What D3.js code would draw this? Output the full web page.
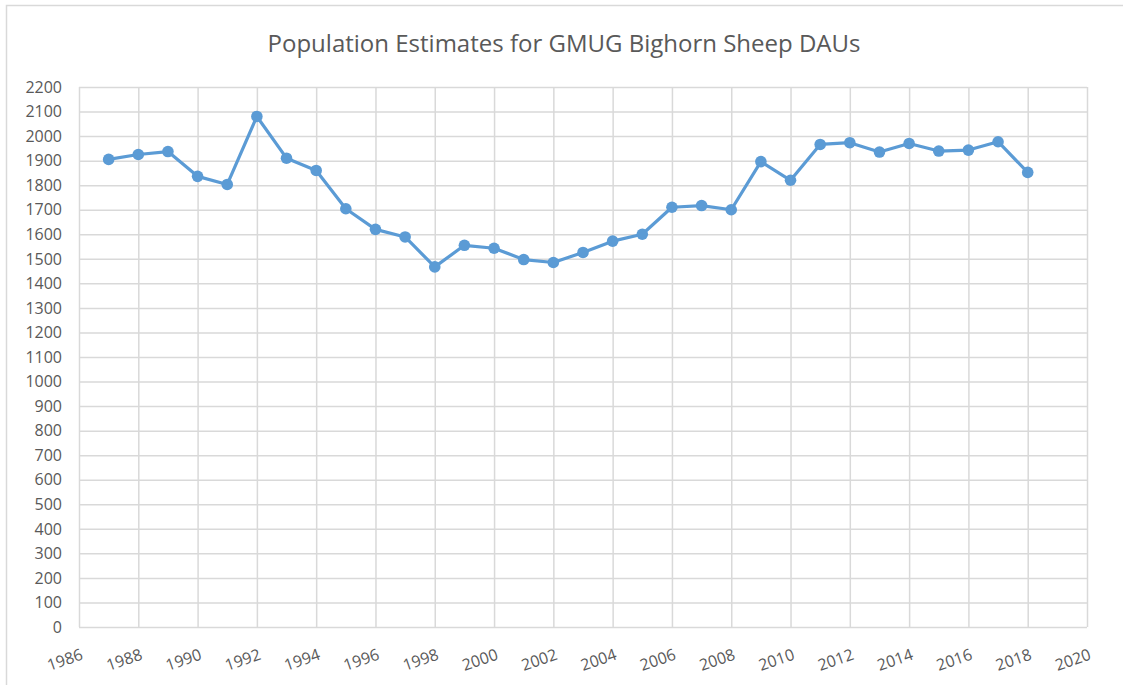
<!DOCTYPE html>
<html>
<head>
<meta charset="utf-8">
<script src="https://cdn.jsdelivr.net/npm/d3@7"></script>
<style>
  html, body { margin: 0; padding: 0; background: #ffffff; }
  svg { display: block; }
</style>
</head>
<body>
<svg id="chart" width="1123" height="685"></svg>
<script>
const title = "Population Estimates for GMUG Bighorn Sheep DAUs";
const years = [1987,1988,1989,1990,1991,1992,1993,1994,1995,1996,1997,1998,1999,2000,2001,2002,2003,2004,2005,2006,2007,2008,2009,2010,2011,2012,2013,2014,2015,2016,2017,2018];
const population = [1905,1925,1937,1836,1803,2080,1910,1860,1704,1620,1589,1467,1555,1543,1497,1485,1526,1572,1600,1710,1717,1700,1896,1820,1966,1973,1935,1970,1939,1943,1977,1852];
const xTicks = [1986,1988,1990,1992,1994,1996,1998,2000,2002,2004,2006,2008,2010,2012,2014,2016,2018,2020];
const yTicks = [0,100,200,300,400,500,600,700,800,900,1000,1100,1200,1300,1400,1500,1600,1700,1800,1900,2000,2100,2200];

const svg = d3.select("#chart");
const W = 1123, H = 685;
const plot = { left: 79, right: 1087, top: 87, bottom: 627 };

// outer chart frame (extends beyond the picture on right/bottom)
svg.append("rect")
  .attr("x", 6.5).attr("y", 5.5)
  .attr("width", W + 20).attr("height", H + 20)
  .attr("fill", "#ffffff")
  .attr("stroke", "#d9d9d9").attr("stroke-width", 1.5);

const x = d3.scaleLinear().domain([1986, 2020]).range([plot.left, plot.right]);
const y = d3.scaleLinear().domain([0, 2200]).range([plot.bottom, plot.top]);

// title
svg.append("text")
  .attr("x", 564).attr("y", 52)
  .attr("text-anchor", "middle")
  .attr("font-family", "'Open Sans', sans-serif")
  .attr("font-size", 24)
  .attr("fill", "#595959")
  .text(title);

// horizontal gridlines
svg.append("g").selectAll("line").data(yTicks).join("line")
  .attr("x1", plot.left).attr("x2", plot.right)
  .attr("y1", d => y(d) + 0.5).attr("y2", d => y(d) + 0.5)
  .attr("stroke", "#d9d9d9").attr("stroke-width", 1.5);

// vertical gridlines
svg.append("g").selectAll("line").data(xTicks).join("line")
  .attr("y1", plot.top).attr("y2", plot.bottom)
  .attr("x1", d => x(d) + 0.5).attr("x2", d => x(d) + 0.5)
  .attr("stroke", "#d9d9d9").attr("stroke-width", 1.5);

// y labels
svg.append("g").selectAll("text").data(yTicks).join("text")
  .attr("x", 62).attr("y", d => y(d))
  .attr("dy", "0.36em")
  .attr("text-anchor", "end")
  .attr("font-family", "'Open Sans', sans-serif")
  .attr("font-size", 16)
  .attr("fill", "#595959")
  .text(d => d);

// x labels (rotated)
svg.append("g").selectAll("text").data(xTicks).join("text")
  .attr("transform", d => `translate(${x(d) + 5},${659}) rotate(-19)`)
  .attr("text-anchor", "end")
  .attr("font-family", "'Open Sans', sans-serif")
  .attr("font-size", 16)
  .attr("fill", "#595959")
  .text(d => d);

// line
const line = d3.line().x((d, i) => x(years[i])).y(d => y(d));
svg.append("path")
  .datum(population)
  .attr("d", line)
  .attr("fill", "none")
  .attr("stroke", "#5b9bd5")
  .attr("stroke-width", 3.2)
  .attr("stroke-linejoin", "round");

// markers
svg.append("g").selectAll("circle").data(population).join("circle")
  .attr("cx", (d, i) => x(years[i]))
  .attr("cy", d => y(d))
  .attr("r", 5.8)
  .attr("fill", "#5b9bd5");
</script>
</body>
</html>
